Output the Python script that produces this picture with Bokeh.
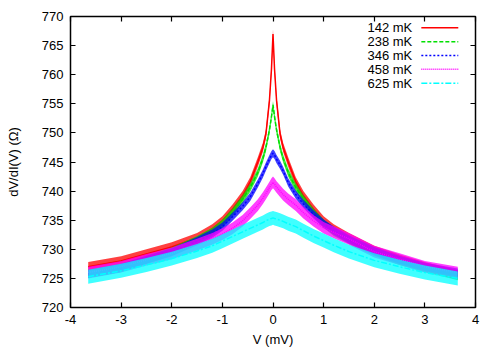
from bokeh.plotting import figure
from bokeh.models import LinearAxis, Range1d, FixedTicker, ColumnDataSource
from bokeh.embed import file_html
from bokeh.resources import INLINE
from bokeh.core.properties import value

# ---- data ----
v_mV = [-3.65, -3.0, -2.5, -2.0, -1.5, -1.2, -1.0, -0.8, -0.6, -0.45, -0.3, -0.2, -0.14, -0.07, -0.03, 0.0,
        0.03, 0.07, 0.14, 0.2, 0.3, 0.45, 0.6, 0.8, 1.0, 1.2, 1.5, 2.0, 2.5, 3.0, 3.65]

r_142 = [727.0, 728.0, 729.2, 730.4, 732.0, 733.5, 734.9, 736.9, 739.2, 741.6, 745.0, 747.5, 749.8, 755.6, 761.0, 767.0,
         761.0, 755.6, 749.8, 747.5, 745.0, 741.6, 739.2, 736.9, 734.9, 733.5, 732.0, 729.8, 728.3, 727.0, 725.6]
r_238 = [725.8, 726.8, 728.2, 729.6, 731.6, 733.0, 734.4, 736.3, 738.6, 740.6, 743.2, 745.6, 747.5, 750.5, 752.8, 754.8,
         752.8, 750.5, 747.5, 745.6, 743.2, 740.6, 738.6, 736.3, 734.4, 733.0, 731.6, 729.6, 728.0, 726.8, 725.4]
r_346 = [725.8, 726.8, 728.2, 729.5, 731.4, 732.7, 733.9, 735.6, 737.4, 739.0, 741.3, 743.0, 744.2, 745.5, 746.2, 746.5,
         746.2, 745.5, 744.5, 743.5, 741.5, 739.4, 737.8, 736.0, 734.4, 733.2, 731.7, 729.7, 728.2, 727.0, 726.0]
r_458 = [726.0, 727.0, 728.2, 729.3, 730.8, 731.8, 732.6, 733.6, 734.9, 736.2, 737.6, 738.8, 739.6, 740.6, 741.2, 741.5,
         741.2, 740.7, 740.0, 739.4, 738.6, 737.6, 736.3, 734.9, 733.7, 732.9, 731.8, 729.6, 728.3, 727.0, 726.0]
r_625 = [725.3, 726.3, 727.3, 728.4, 729.7, 730.6, 731.4, 732.2, 733.0, 733.6, 734.2, 734.6, 734.9, 735.2, 735.3, 735.4,
         735.3, 735.2, 735.0, 734.8, 734.4, 733.9, 733.2, 732.3, 731.5, 730.7, 729.6, 728.1, 727.0, 726.0, 725.0]

# half-width of the measurement noise band of each trace (Ohm)
noise = [0.8, 0.7, 0.7, 1.0, 1.2]

series_labels = ["142 mK", "238 mK", "346 mK", "458 mK", "625 mK"]
x_ticks = [-4, -3, -2, -1, 0, 1, 2, 3, 4]
x_tick_labels = ["-4", "-3", "-2", "-1", "0", "1", "2", "3", "4"]
y_ticks = [720, 725, 730, 735, 740, 745, 750, 755, 760, 765, 770]

# ---- styles ----
colors = ["#ff0000", "#00e000", "#0000ff", "#ff00ff", "#00ffff"]
dashes = ["solid", "4 2", "2 2", "1 1", "6 2 2 2"]
FONT = "Liberation Sans"
FS = "13px"

p = figure(width=490, height=349, output_backend="svg", toolbar_location=None,
           x_range=Range1d(-4, 4), y_range=Range1d(720, 770),
           min_border_left=70, min_border_right=15, min_border_top=16, min_border_bottom=42,
           x_axis_label="V (mV)", y_axis_label="dV/dI(V) (\u03a9)")
p.grid.visible = False
p.outline_line_color = "black"
p.outline_line_width = 1.5
p.background_fill_color = "white"
p.border_fill_color = "white"

for ax in (p.xaxis[0], p.yaxis[0]):
    ax.axis_line_color = None
    ax.major_tick_in = 5
    ax.major_tick_out = 0
    ax.minor_tick_line_color = None
    ax.major_tick_line_color = "black"
    ax.major_tick_line_width = 1.2
    ax.major_label_text_font = FONT
    ax.major_label_text_font_size = FS
    ax.major_label_text_color = "black"
    ax.axis_label_text_font = FONT
    ax.axis_label_text_font_size = FS
    ax.axis_label_text_font_style = "normal"
    ax.axis_label_text_color = "black"

p.xaxis[0].ticker = FixedTicker(ticks=x_ticks)
p.xaxis[0].major_label_overrides = dict(zip(x_ticks, x_tick_labels))
p.yaxis[0].ticker = FixedTicker(ticks=y_ticks)
p.xaxis[0].major_label_standoff = 7
p.xaxis[0].axis_label_standoff = 5
p.yaxis[0].major_label_standoff = 7
p.yaxis[0].axis_label_standoff = 18

# mirrored tick marks on top and right (no labels there)
top = LinearAxis(ticker=FixedTicker(ticks=x_ticks),
                 major_label_overrides={t: "" for t in x_ticks})
right = LinearAxis(ticker=FixedTicker(ticks=y_ticks),
                   major_label_overrides={t: "" for t in y_ticks})
for ax in (top, right):
    ax.axis_line_color = None
    ax.major_tick_in = 5
    ax.major_tick_out = 0
    ax.major_tick_line_width = 1.2
    ax.minor_tick_line_color = None
    ax.major_label_text_color = None
    ax.major_label_standoff = 0
p.add_layout(top, "above")
p.add_layout(right, "right")

all_series = [r_142, r_238, r_346, r_458, r_625]
for vals, nz, col, dash in zip(all_series, noise, colors, dashes):
    src = ColumnDataSource(dict(x=v_mV, y=vals,
                                lo=[v - nz for v in vals], hi=[v + nz for v in vals]))
    p.varea(x="x", y1="lo", y2="hi", source=src, fill_color=col, fill_alpha=0.75)
    p.line(x="x", y="y", source=src, line_color=col, line_width=1.5, line_dash=dash)

# gnuplot-style key: text on the left, line sample on the right (top-right corner)
key_text_x = 2.75
key_seg_x0, key_seg_x1 = 2.93, 3.66
key_y0, key_dy = 768.06, 2.38
for i, (lab, col, dash) in enumerate(zip(series_labels, colors, dashes)):
    yy = key_y0 - i * key_dy
    p.text(x=[key_text_x], y=[yy], text=[lab], text_align="right", text_baseline="middle",
           text_font=value(FONT), text_font_size=FS, text_color="black")
    p.segment(x0=[key_seg_x0], y0=[yy], x1=[key_seg_x1], y1=[yy],
              line_color=col, line_width=1.5, line_dash=dash)

open("out.html", "w").write(file_html(p, INLINE))
